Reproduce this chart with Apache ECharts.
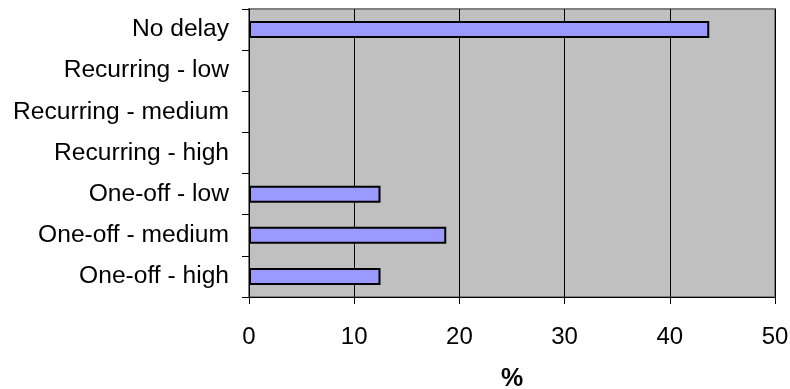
<!DOCTYPE html>
<html>
<head>
<meta charset="utf-8">
<script src="https://cdn.jsdelivr.net/npm/echarts@6/dist/echarts.min.js"></script>
<style>
  html, body { margin: 0; padding: 0; background: #fff; }
  #chart { width: 790px; height: 389px; }
</style>
</head>
<body>
<div id="chart"></div>
<script>
// Delay categories, top to bottom
const categories = [
  'No delay',
  'Recurring - low',
  'Recurring - medium',
  'Recurring - high',
  'One-off - low',
  'One-off - medium',
  'One-off - high'
];
// Share of cases (%)
const percentValues = [43.75, 0, 0, 0, 12.5, 18.75, 12.5];
const xTicks = { min: 0, max: 50, step: 10 };

const font = '"Liberation Sans", Arial, sans-serif';

// Empty categories get no outline so no stub is drawn at zero
const barData = percentValues.map(v => ({
  value: v,
  itemStyle: v === 0 ? { borderWidth: 0 } : undefined
}));

const chart = echarts.init(document.getElementById('chart'));
chart.setOption({
  animation: false,
  grid: {
    left: 249, top: 9, right: 15, bottom: 92,
    containLabel: false,
    outerBoundsMode: 'none',
    show: true, backgroundColor: '#c0c0c0',
    borderColor: '#808080', borderWidth: 2
  },
  xAxis: {
    type: 'value',
    min: xTicks.min, max: xTicks.max, interval: xTicks.step,
    name: '%', nameLocation: 'middle', nameGap: 70,
    nameTextStyle: { fontFamily: font, fontSize: 25, fontWeight: 'bold', color: '#000' },
    axisLine: { show: true, lineStyle: { color: '#000', width: 1 } },
    axisTick: { show: true, length: 7, lineStyle: { color: '#000' } },
    axisLabel: { margin: 28, fontFamily: font, fontSize: 24, color: '#000' },
    splitLine: { show: true, lineStyle: { color: '#000', width: 1 } }
  },
  yAxis: {
    type: 'category',
    data: categories,
    inverse: true,
    axisLine: { show: true, lineStyle: { color: '#000', width: 1 } },
    axisTick: { show: true, length: 7, lineStyle: { color: '#000' } },
    axisLabel: { margin: 20, fontFamily: font, fontSize: 24.6, color: '#000' },
    splitLine: { show: false }
  },
  series: [{
    type: 'bar',
    data: barData,
    barWidth: 17,
    itemStyle: { color: '#9999ff', borderColor: '#000', borderWidth: 2 }
  }]
});
</script>
</body>
</html>
